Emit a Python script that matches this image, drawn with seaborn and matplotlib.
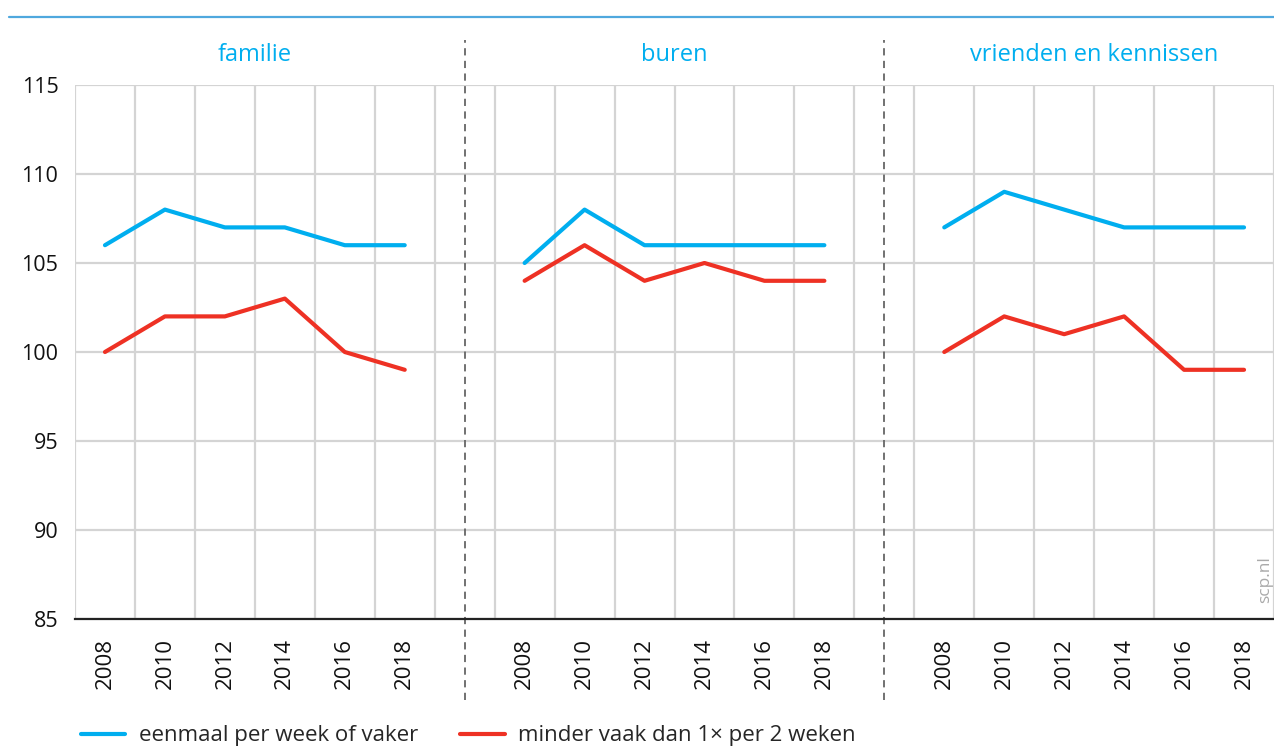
import pandas as pd
import seaborn as sns
import matplotlib.pyplot as plt
from matplotlib.lines import Line2D
import matplotlib.transforms as mtransforms

# gegevens (index, 2008 = 100)
jaren = [2008, 2010, 2012, 2014, 2016, 2018]
panelen = ['familie', 'buren', 'vrienden en kennissen']
reeksen = ['eenmaal per week of vaker', 'minder vaak dan 1\u00d7 per 2 weken']

familie_vaak = [106, 108, 107, 107, 106, 106]
familie_minder = [100, 102, 102, 103, 100, 99]
buren_vaak = [105, 108, 106, 106, 106, 106]
buren_minder = [104, 106, 104, 105, 104, 104]
vrienden_vaak = [107, 109, 108, 107, 107, 107]
vrienden_minder = [100, 102, 101, 102, 99, 99]

waarden = {
    'familie': (familie_vaak, familie_minder),
    'buren': (buren_vaak, buren_minder),
    'vrienden en kennissen': (vrienden_vaak, vrienden_minder),
}

# long format, elk paneel schuift 14 jaar op langs de x-as
rijen = []
for p_i, paneel in enumerate(panelen):
    for r_i, reeks in enumerate(reeksen):
        for jaar, w in zip(jaren, waarden[paneel][r_i]):
            rijen.append({'paneel': paneel, 'reeks': reeks, 'jaar': jaar,
                          'pos': jaar - 2007 + 14 * p_i, 'waarde': w})
df = pd.DataFrame(rijen)

sns.set_style('white')
plt.rcParams['font.family'] = ['Open Sans', 'DejaVu Sans']

blauw = '#00AEEF'
rood = '#EE3124'

fig = plt.figure(figsize=(12.74, 7.49), dpi=100)
ax = fig.add_axes([75 / 1274, 130 / 749, 1 - 75 / 1274, 534 / 749])

sns.lineplot(data=df, x='pos', y='waarde', hue='reeks', units='paneel',
             estimator=None, palette=[blauw, rood], linewidth=3,
             legend=False, ax=ax)

ax.set_xlim(0, 39.7)
ax.set_ylim(85, 115)
ax.set_yticks(range(85, 116, 5))

# ticks op de jaren, rasterlijnen ertussen
tick_pos = [j - 2007 + 14 * p for p in range(3) for j in jaren]
ax.set_xticks(tick_pos)
ax.set_xticklabels([str(j) for p in range(3) for j in jaren], rotation=90)
ax.set_xticks(list(range(0, 41, 2)), minor=True)
ax.grid(True, which='minor', axis='x', color='#d4d4d4', linewidth=1.6)
ax.grid(True, which='major', axis='y', color='#d4d4d4', linewidth=1.6)
ax.grid(False, which='major', axis='x')
ax.set_axisbelow(True)

for s in ['top', 'right', 'left']:
    ax.spines[s].set_visible(False)
ax.spines['bottom'].set_color('#222222')
ax.spines['bottom'].set_linewidth(1.6)

ax.tick_params(axis='x', which='major', length=8, width=1.6, color='#222222',
               labelsize=16, pad=6, labelcolor='#111111')
ax.tick_params(axis='x', which='minor', length=0)
ax.tick_params(axis='y', length=0, labelsize=15.5, pad=12, labelcolor='#111111')
ax.set_xlabel('')
ax.set_ylabel('')

# scheidingslijnen tussen panelen
for x in [13, 27]:
    ax.axvline(x, ymin=-0.152, ymax=1.084, color='#666666', linestyle=(0, (4, 3)),
               linewidth=1.3, clip_on=False)

# paneeltitels
trans = mtransforms.blended_transform_factory(ax.transData, ax.transAxes)
for p_i, paneel in enumerate(panelen):
    ax.text(6 + 14 * p_i, 1.056, paneel, transform=trans, ha='center',
            va='center', color=blauw, fontsize=17)

# lijn bovenaan
fig.add_artist(Line2D([9 / 1274, 1], [1 - 17 / 749, 1 - 17 / 749],
                      color='#4FA8DE', linewidth=1.6))

fig.text(1265 / 1274, 1 - 580 / 749, 'scp.nl', rotation=90, ha='center',
         va='center', color='#aaaaaa', fontsize=12.5)

handles = [Line2D([], [], color=blauw, linewidth=3),
           Line2D([], [], color=rood, linewidth=3)]
fig.legend(handles, reeksen, loc='center left', bbox_to_anchor=(72 / 1274, 1 - 736 / 749),
           ncol=2, frameon=False, fontsize=16, handlelength=2.0,
           handletextpad=0.6, columnspacing=1.9, borderaxespad=0)

plt.savefig('out.png', dpi=100)
